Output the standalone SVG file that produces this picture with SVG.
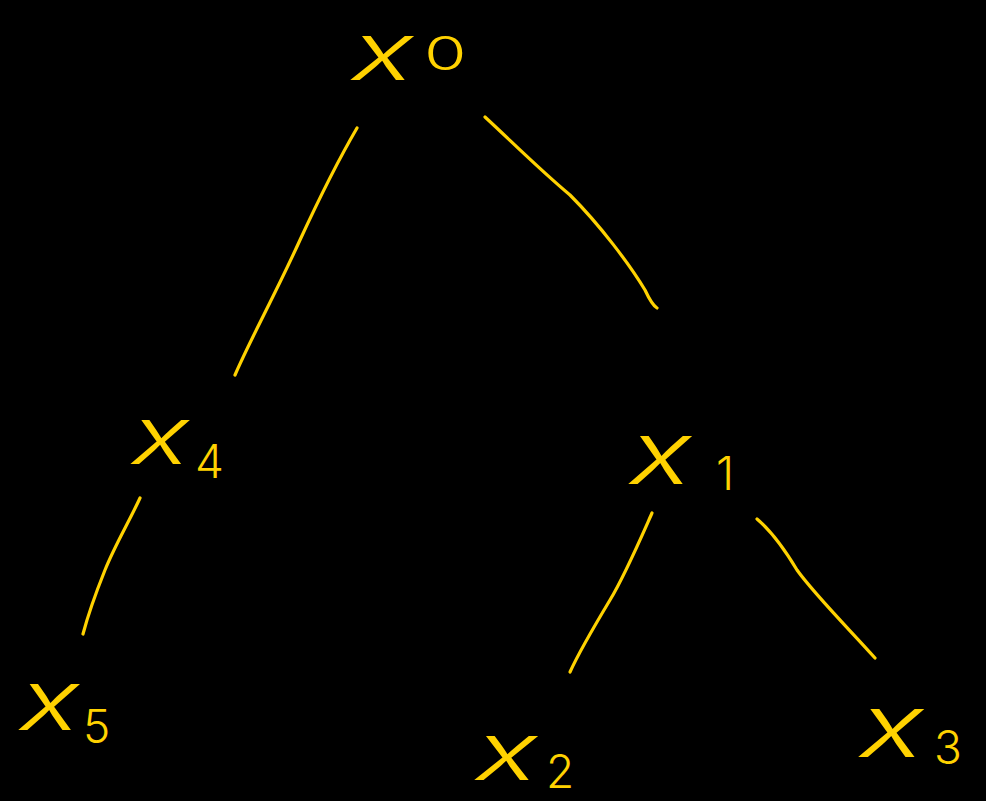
<svg xmlns="http://www.w3.org/2000/svg" width="986" height="801" viewBox="0 0 986 801">
<style>
.v{fill:#FFD200;font-family:Inter,"Liberation Sans",sans-serif;font-style:italic;font-weight:300;font-size:80px}
.s{fill:#FFD200;font-family:Inter,"Liberation Sans",sans-serif;font-weight:300;font-size:46px}
.e{fill:none;stroke:#FFD200;stroke-width:3.2;stroke-linecap:round}
</style>
<rect width="986" height="801" fill="#000"/>
<g id="connectors">
<path class="e" d="M357,128 C350,140 330,175 300,240 C275,295 250,340 235,375"/>
<path class="e" d="M485,117 C510,140 540,170 570,195 C600,225 630,265 645,290 Q652,305 657,308"/>
<path class="e" d="M140,498 C130,520 115,545 105,570 C95,595 88,615 83,634"/>
<path class="e" d="M652,513 C640,540 625,575 610,600 C595,625 580,650 570,672"/>
<path class="e" d="M757,519 C770,530 785,550 797,570 C815,595 850,630 875,658"/>
</g>
<g id="x0"><text class="v" transform="translate(352,80) scale(1.45,1)">x</text><text class="s" transform="translate(424,70) scale(1.5,1)">0</text></g>
<g id="x4"><text class="v" transform="translate(132,464) scale(1.35,1)">x</text><text class="s" x="195" y="478">4</text></g>
<g id="x1"><text class="v" transform="translate(630,484) scale(1.45,1.1)">x</text><text class="s" x="716" y="490">1</text></g>
<g id="x5"><text class="v" transform="translate(20,730) scale(1.4,1.05)">x</text><text class="s" x="83" y="743">5</text></g>
<g id="x2"><text class="v" transform="translate(476,780) scale(1.45,1)">x</text><text class="s" x="546" y="788">2</text></g>
<g id="x3"><text class="v" transform="translate(860,757) scale(1.5,1.1)">x</text><text class="s" x="934" y="764">3</text></g>
</svg>
